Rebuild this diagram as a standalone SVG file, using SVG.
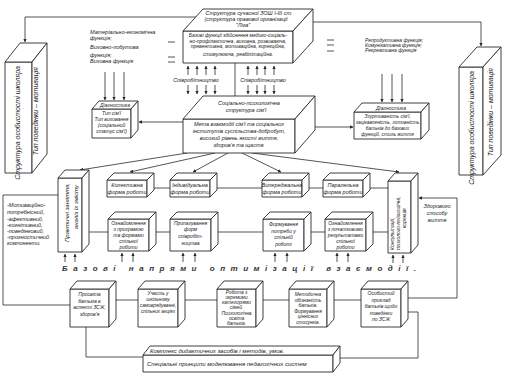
<svg xmlns="http://www.w3.org/2000/svg" width="506" height="380" viewBox="0 0 506 380">
<defs>
<style>
.b{fill:#fff;stroke:#2a2a2a;stroke-width:0.9;stroke-linejoin:round}
.c{fill:none;stroke:#2a2a2a;stroke-width:0.8}
.t{font-family:"Liberation Sans",Arial,sans-serif;font-style:italic;font-size:5.5px;fill:#222}
.s{font-size:5px}
.m{text-anchor:middle}
.e{text-anchor:end}
.h{font-family:"Liberation Sans",Arial,sans-serif;font-style:italic;font-weight:bold;font-size:8px;fill:#333}
</style>
<marker id="ah" viewBox="0 0 6 6" refX="5.5" refY="3" markerWidth="4.5" markerHeight="4.5" orient="auto"><path d="M0,0 L6,3 L0,6 Z" fill="#2a2a2a"/></marker>
</defs>
<rect width="506" height="380" fill="#fff"/>

<g id="connectors">
<path class="c" d="M196,17 H25 V42" marker-end="url(#ah)"/>
<path class="c" d="M313,22 H481 V46" marker-end="url(#ah)"/>
<path class="c" d="M235,63 V96"/>
<path class="c" d="M188,75 V66" marker-end="url(#ah)"/>
<path class="c" d="M197,75 V66" marker-end="url(#ah)"/>
<path class="c" d="M206,75 V66" marker-end="url(#ah)"/>
<path class="c" d="M215,75 V66" marker-end="url(#ah)"/>
<path class="c" d="M248,75 V66" marker-end="url(#ah)"/>
<path class="c" d="M257,75 V66" marker-end="url(#ah)"/>
<path class="c" d="M265,75 V66" marker-end="url(#ah)"/>
<path class="c" d="M274,75 V66" marker-end="url(#ah)"/>
<path class="c" d="M188,85 V94" marker-end="url(#ah)"/>
<path class="c" d="M197,85 V94" marker-end="url(#ah)"/>
<path class="c" d="M206,85 V94" marker-end="url(#ah)"/>
<path class="c" d="M215,85 V94" marker-end="url(#ah)"/>
<path class="c" d="M248,85 V94" marker-end="url(#ah)"/>
<path class="c" d="M257,85 V94" marker-end="url(#ah)"/>
<path class="c" d="M265,85 V94" marker-end="url(#ah)"/>
<path class="c" d="M274,85 V94" marker-end="url(#ah)"/>
<path class="c" d="M168,42 H175 M168,57 H175 M168,62 H175"/>
<path class="c" d="M327,40 H334 M327,45 H334 M327,51 H334"/>
<path class="c" d="M105,72 V100" marker-end="url(#ah)"/>
<path class="c" d="M114,72 V100" marker-end="url(#ah)"/>
<path class="c" d="M124,72 V100" marker-end="url(#ah)"/>
<path class="c" d="M382,74 V102" marker-end="url(#ah)"/>
<path class="c" d="M392,74 V102" marker-end="url(#ah)"/>
<path class="c" d="M402,74 V102" marker-end="url(#ah)"/>
<path class="c" d="M183,122 H139" marker-end="url(#ah)"/>
<path class="c" d="M295,127 H353" marker-end="url(#ah)"/>
<path class="c" d="M187,153 L80,170" marker-end="url(#ah)"/>
<path class="c" d="M215,153 L130,172" marker-end="url(#ah)"/>
<path class="c" d="M228,153 L193,172" marker-end="url(#ah)"/>
<path class="c" d="M242,153 L281,172" marker-end="url(#ah)"/>
<path class="c" d="M252,153 L399,172" marker-end="url(#ah)"/>
<path class="c" d="M58,195 H3 V305 H70"/>
<path class="c" d="M147,188 H388"/>
<path class="c" d="M82,232 H388"/>
<path class="c" d="M109,300 H361"/>
<path class="c" d="M401,298 H457 V198 H419" marker-end="url(#ah)"/>
<path class="c" d="M86,327 V357 H143"/>
<path class="c" d="M401,312 H418 V358 H340"/>
<path class="c" d="M65,262 V254" marker-end="url(#ah)"/>
<path class="c" d="M75,262 V254" marker-end="url(#ah)"/>
<path class="c" d="M122,262 V253" marker-end="url(#ah)"/>
<path class="c" d="M133,262 V253" marker-end="url(#ah)"/>
<path class="c" d="M183,262 V253" marker-end="url(#ah)"/>
<path class="c" d="M195,262 V253" marker-end="url(#ah)"/>
<path class="c" d="M275,262 V253" marker-end="url(#ah)"/>
<path class="c" d="M287,262 V253" marker-end="url(#ah)"/>
<path class="c" d="M337,262 V253" marker-end="url(#ah)"/>
<path class="c" d="M348,262 V253" marker-end="url(#ah)"/>
<path class="c" d="M393,263 V255" marker-end="url(#ah)"/>
<path class="c" d="M403,263 V255" marker-end="url(#ah)"/>
</g>

<g id="school-structure">
<rect class="b" x="183" y="31" width="110" height="32"/>
<path class="b" d="M183,31 L203,9 H313 L293,31 Z"/>
<path class="b" d="M293,31 L313,9 V41 L293,63 Z"/>
<text class="t m" x="249" y="15">Структура сучасної ЗОШ І-ІІІ ст.</text>
<text class="t m" x="246" y="21">(структура правової організації</text>
<text class="t m" x="243" y="27">"Ліга"</text>
<text class="t m s" x="238" y="37">Базові функції здійснення медико-соціаль-</text>
<text class="t m s" x="238" y="42.5">но-профілактична, виховна, розвиваюча,</text>
<text class="t m s" x="238" y="48">превентивна, мотиваційна, корекційна,</text>
<text class="t m s" x="238" y="56">стимулююча, реабілітаційна.</text>
</g>

<g id="cooperation-labels">
<text class="t m" x="196" y="81.5">Співробітництво</text>
<text class="t m" x="263" y="81.5">Співробітництво</text>
</g>

<g id="functions-left">
<text class="t" x="90" y="34">Матеріально-економічна</text>
<text class="t" x="90" y="40">функція;</text>
<text class="t" x="90" y="49">Виховно-побутова</text>
<text class="t" x="90" y="57">функція;</text>
<text class="t" x="90" y="63">Виховна функція</text>
</g>

<g id="functions-right">
<text class="t s" x="365" y="42">Репродуктивна функція;</text>
<text class="t s" x="365" y="47">Комунікативна функція;</text>
<text class="t s" x="365" y="52">Рекреативна функція</text>
</g>

<g id="family-structure">
<rect class="b" x="183" y="119" width="112" height="34"/>
<path class="b" d="M183,119 L203,96 H315 L295,119 Z"/>
<path class="b" d="M295,119 L315,96 V130 L295,153 Z"/>
<text class="t m" x="249" y="105">Соціально-психологічна</text>
<text class="t m" x="246" y="112">структура сім'ї</text>
<text class="t m" x="239" y="126">Мета взаємодії сім'ї та соціальних</text>
<text class="t m" x="239" y="133">інститутів суспільства-добробут,</text>
<text class="t m" x="239" y="140">високий рівень якості життя,</text>
<text class="t m" x="239" y="147">здоров'я та щастя.</text>
</g>

<g id="diagnostics-left">
<rect class="b" x="92" y="109" width="39" height="29"/>
<path class="b" d="M92,109 L99,101 H138 L131,109 Z"/>
<path class="b" d="M131,109 L138,101 V130 L131,138 Z"/>
<text class="t m s" x="115" y="107">Діагностика</text>
<text class="t m s" x="111.5" y="115">Тип сім'ї</text>
<text class="t m s" x="111.5" y="121">Тип виховання</text>
<text class="t m s" x="111.5" y="127">(соціальний</text>
<text class="t m s" x="111.5" y="133">статус сім'ї)</text>
</g>

<g id="diagnostics-right">
<rect class="b" x="354" y="112" width="67" height="27"/>
<path class="b" d="M354,112 L362,103 H429 L421,112 Z"/>
<path class="b" d="M421,112 L429,103 V130 L421,139 Z"/>
<text class="t m s" x="391" y="110">Діагностика</text>
<text class="t m" style="font-size:4.8px" x="387.5" y="118">Згуртованість сім'ї,</text>
<text class="t m" style="font-size:4.8px" x="387.5" y="124">зацікавленість, готовність</text>
<text class="t m" style="font-size:4.8px" x="387.5" y="130">батьків до базових</text>
<text class="t m" style="font-size:4.8px" x="387.5" y="136">функцій, стиль життя</text>
</g>

<g id="personality-left">
<rect class="b" x="5" y="62" width="27" height="111"/>
<path class="b" d="M5,62 L20,43 H47 L32,62 Z"/>
<path class="b" d="M32,62 L47,43 V154 L32,173 Z"/>
<text class="t e" style="font-size:7px" transform="translate(19.5,66) rotate(-90)">Структура особистості школяра</text>
<text class="t e" style="font-size:7px" transform="translate(37.5,67) rotate(-90)">Тип поведінки – мотивація</text>
</g>

<g id="personality-right">
<rect class="b" x="459" y="67" width="24" height="108"/>
<path class="b" d="M459,67 L477,47 H501 L483,67 Z"/>
<path class="b" d="M483,67 L501,47 V155 L483,175 Z"/>
<text class="t e" style="font-size:7px" transform="translate(473.5,71) rotate(-90)">Структура особистості школяра</text>
<text class="t e" style="font-size:7px" transform="translate(492.5,68) rotate(-90)">Тип поведінки – мотивація</text>
</g>

<g id="components">
<text class="t" x="7" y="207">-Мотиваційно-</text>
<text class="t" x="7" y="214">потребнісний,</text>
<text class="t" x="7" y="221">-афективний,</text>
<text class="t" x="7" y="227">-когнітивний,</text>
<text class="t" x="7" y="233">-поведінковий,</text>
<text class="t" x="7" y="239">-прогностичний</text>
<text class="t" x="7" y="245">компоненти.</text>
</g>

<g id="practical">
<rect class="b" x="58" y="178" width="24" height="74"/>
<path class="b" d="M58,178 L65,170 H89 L82,178 Z"/>
<path class="b" d="M82,178 L89,170 V244 L82,252 Z"/>
<text class="t e" style="font-size:6px" transform="translate(68.5,183) rotate(-90)">Практичні заняття,</text>
<text class="t e" style="font-size:6px" transform="translate(77.5,185) rotate(-90)">аналіз їх змісту</text>
</g>

<g id="collective">
<rect class="b" x="107" y="180" width="40" height="17"/>
<path class="b" d="M107,180 L114,173 H154 L147,180 Z"/>
<path class="b" d="M147,180 L154,173 V190 L147,197 Z"/>
<text class="t m" x="127" y="187">Колективна</text>
<text class="t m" x="127" y="193.5">форма роботи</text>
</g>
<g id="individual">
<rect class="b" x="170" y="180" width="40" height="17"/>
<path class="b" d="M170,180 L177,173 H217 L210,180 Z"/>
<path class="b" d="M210,180 L217,173 V190 L210,197 Z"/>
<text class="t m" x="190" y="187">Індивідуальна</text>
<text class="t m" x="190" y="193.5">форма роботи</text>
</g>
<g id="advance">
<rect class="b" x="262" y="180" width="40" height="17"/>
<path class="b" d="M262,180 L269,173 H309 L302,180 Z"/>
<path class="b" d="M302,180 L309,173 V190 L302,197 Z"/>
<text class="t m" x="282" y="187">Випереджальна</text>
<text class="t m" x="282" y="193.5">форма роботи</text>
</g>
<g id="parallel">
<rect class="b" x="323" y="180" width="40" height="17"/>
<path class="b" d="M323,180 L330,173 H370 L363,180 Z"/>
<path class="b" d="M363,180 L370,173 V190 L363,197 Z"/>
<text class="t m" x="343" y="187">Паралельна</text>
<text class="t m" x="343" y="193.5">форма роботи</text>
</g>

<g id="acquaint-program">
<rect class="b" x="108" y="219" width="41" height="32"/>
<path class="b" d="M108,219 L115,212 H156 L149,219 Z"/>
<path class="b" d="M149,219 L156,212 V244 L149,251 Z"/>
<text class="t m s" x="128.5" y="225">Ознайомлення</text>
<text class="t m s" x="128.5" y="231">з програмою</text>
<text class="t m s" x="128.5" y="237">та формами</text>
<text class="t m s" x="128.5" y="243">спільної</text>
<text class="t m s" x="128.5" y="249">роботи</text>
</g>
<g id="propaganda">
<rect class="b" x="170" y="219" width="41" height="32"/>
<path class="b" d="M170,219 L177,212 H218 L211,219 Z"/>
<path class="b" d="M211,219 L218,212 V244 L211,251 Z"/>
<text class="t m s" x="190.5" y="225">Пропагування</text>
<text class="t m s" x="190.5" y="231">форм</text>
<text class="t m s" x="190.5" y="238">співробіт-</text>
<text class="t m s" x="190.5" y="245">ництва</text>
</g>
<g id="needs">
<rect class="b" x="263" y="219" width="41" height="32"/>
<path class="b" d="M263,219 L270,212 H311 L304,219 Z"/>
<path class="b" d="M304,219 L311,212 V244 L304,251 Z"/>
<text class="t m s" x="283.5" y="226">Формування</text>
<text class="t m s" x="283.5" y="232.5">потреби у</text>
<text class="t m s" x="283.5" y="239">спільній</text>
<text class="t m s" x="283.5" y="245.5">роботі</text>
</g>
<g id="acquaint-results">
<rect class="b" x="325" y="219" width="41" height="32"/>
<path class="b" d="M325,219 L332,212 H373 L366,219 Z"/>
<path class="b" d="M366,219 L373,212 V244 L366,251 Z"/>
<text class="t m s" x="345.5" y="225">Ознайомлення</text>
<text class="t m s" x="345.5" y="231">з початковими</text>
<text class="t m s" x="345.5" y="237">результатами</text>
<text class="t m s" x="345.5" y="243">спільної</text>
<text class="t m s" x="345.5" y="249">роботи</text>
</g>

<g id="consultations">
<rect class="b" x="388" y="181" width="23" height="72"/>
<path class="b" d="M388,181 L395,173 H418 L411,181 Z"/>
<path class="b" d="M411,181 L418,173 V245 L411,253 Z"/>
<text class="t s" transform="translate(394,250) rotate(-90)">Консультації,</text>
<text class="t s" transform="translate(400,250) rotate(-90)">психолого-педагогічні,</text>
<text class="t s" transform="translate(406,228) rotate(-90)">корекція</text>
</g>

<g id="healthy-lifestyle">
<text class="t m" x="437" y="208">Здорового</text>
<text class="t m" x="437" y="215">способу</text>
<text class="t m" x="437" y="222">життя</text>
</g>

<g id="heading">
<text class="h" x="62" y="271" textLength="354" lengthAdjust="spacing">Базові напрями оптимізації взаємодії.</text>
</g>

<g id="education">
<rect class="b" x="70" y="289" width="39" height="38"/>
<path class="b" d="M70,289 L77,281 H116 L109,289 Z"/>
<path class="b" d="M109,289 L116,281 V319 L109,327 Z"/>
<text class="t m s" x="89.5" y="296">Просвіта</text>
<text class="t m s" x="89.5" y="302.5">батьків в</text>
<text class="t m s" x="89.5" y="309">аспекті ЗСЖ,</text>
<text class="t m s" x="89.5" y="315.5">здоров'я</text>
</g>
<g id="participation">
<rect class="b" x="138" y="289" width="40" height="38"/>
<path class="b" d="M138,289 L145,281 H185 L178,289 Z"/>
<path class="b" d="M178,289 L185,281 V319 L178,327 Z"/>
<text class="t m" style="font-size:4.8px" x="158" y="295">Участь у</text>
<text class="t m" style="font-size:4.8px" x="158" y="301">шкільному</text>
<text class="t m" style="font-size:4.8px" x="158" y="307">самоврядуванні,</text>
<text class="t m" style="font-size:4.8px" x="158" y="313">спільних акціях</text>
</g>
<g id="categories">
<rect class="b" x="217" y="289" width="39" height="38"/>
<path class="b" d="M217,289 L224,281 H263 L256,289 Z"/>
<path class="b" d="M256,289 L263,281 V319 L256,327 Z"/>
<text class="t m" style="font-size:4.8px" x="236.5" y="294">Робота з</text>
<text class="t m" style="font-size:4.8px" x="236.5" y="299">окремими</text>
<text class="t m" style="font-size:4.8px" x="236.5" y="304">категоріями</text>
<text class="t m" style="font-size:4.8px" x="236.5" y="309">сімей.</text>
<text class="t m" style="font-size:4.8px" x="236.5" y="314.5">Психологічна</text>
<text class="t m" style="font-size:4.8px" x="236.5" y="319.5">освіта</text>
<text class="t m" style="font-size:4.8px" x="236.5" y="324.5">батьків.</text>
</g>
<g id="methodical">
<rect class="b" x="289" y="289" width="38" height="38"/>
<path class="b" d="M289,289 L296,281 H334 L327,289 Z"/>
<path class="b" d="M327,289 L334,281 V319 L327,327 Z"/>
<text class="t m" style="font-size:4.8px" x="308" y="296">Методична</text>
<text class="t m" style="font-size:4.8px" x="308" y="301.5">обізнаність</text>
<text class="t m" style="font-size:4.8px" x="308" y="307">батьків.</text>
<text class="t m" style="font-size:4.8px" x="308" y="312.5">Формування</text>
<text class="t m" style="font-size:4.8px" x="308" y="318">ціннісних</text>
<text class="t m" style="font-size:4.8px" x="308" y="323.5">стосунків.</text>
</g>
<g id="example">
<rect class="b" x="361" y="289" width="40" height="38"/>
<path class="b" d="M361,289 L368,281 H408 L401,289 Z"/>
<path class="b" d="M401,289 L408,281 V319 L401,327 Z"/>
<text class="t m s" x="381" y="295">Особистий</text>
<text class="t m s" x="381" y="301.5">приклад</text>
<text class="t m s" x="381" y="308">батьків щодо</text>
<text class="t m s" x="381" y="314.5">поведінки</text>
<text class="t m s" x="381" y="321">по ЗСЖ</text>
</g>

<g id="methods">
<rect class="b" x="143" y="355" width="190" height="17"/>
<path class="b" d="M143,355 L150,346 H340 L333,355 Z"/>
<path class="b" d="M333,355 L340,346 V363 L333,372 Z"/>
<text class="t" style="font-size:6px" x="150" y="353">Комплекс дидактичних засобів і методів, умов.</text>
<text class="t" style="font-size:6px" x="147" y="366">Спеціальні принципи моделювання педагогічних систем</text>
</g>
</svg>
